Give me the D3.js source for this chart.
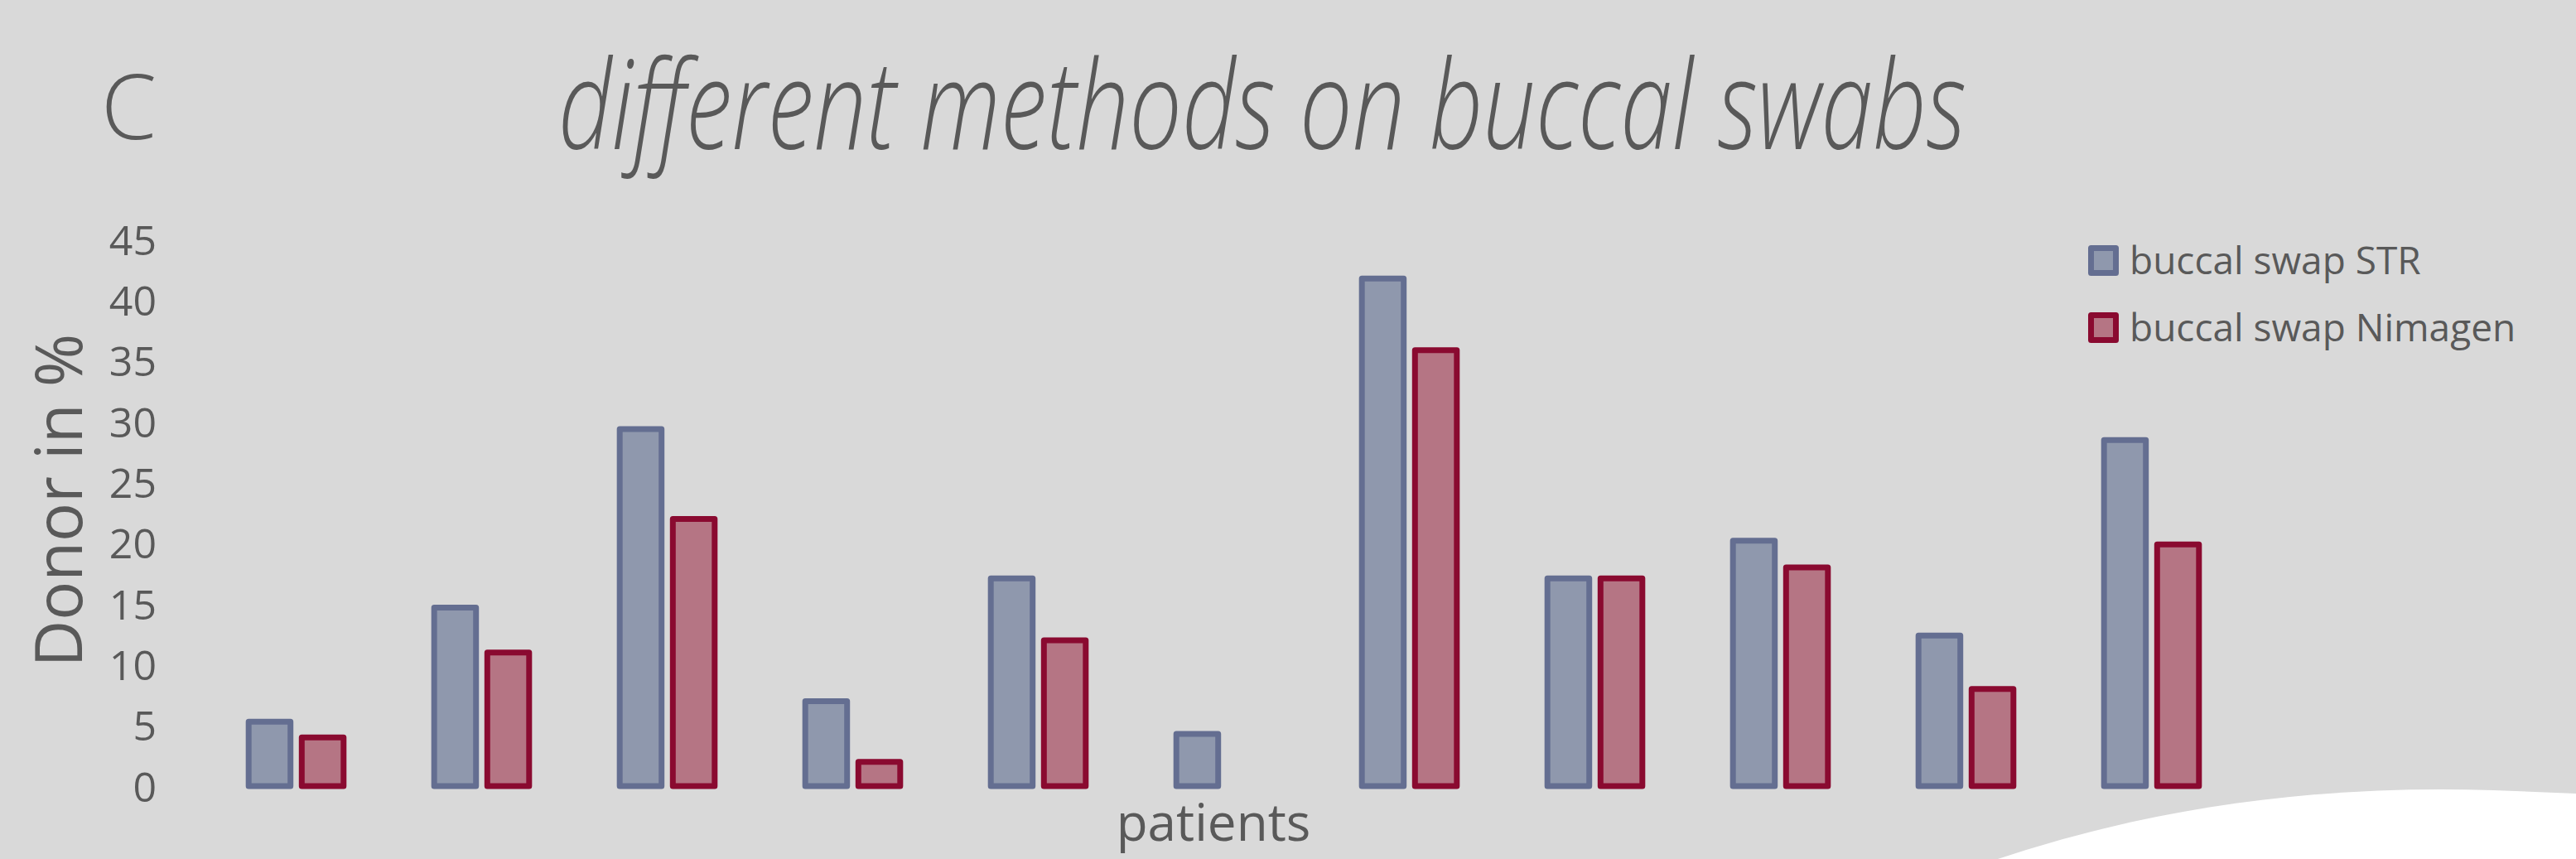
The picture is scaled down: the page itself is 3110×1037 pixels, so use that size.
<!DOCTYPE html>
<html>
<head>
<meta charset="utf-8">
<script src="https://cdn.jsdelivr.net/npm/d3@7"></script>
<style>
  html, body { margin: 0; padding: 0; background: #d9d9d9; }
  svg { display: block; }
</style>
</head>
<body>
<svg id="chart" width="3110" height="1037"></svg>
<script>
// ---- data ----
const patients = ["1","2","3","4","5","6","7","8","9","10","11"];
const seriesNames = ["buccal swap STR", "buccal swap Nimagen"];
const strValues = [5.3, 14.7, 29.4, 7.0, 17.1, 4.3, 41.8, 17.1, 20.2, 12.4, 28.5];
const nimagenValues = [4.0, 11.0, 22.0, 2.0, 12.0, 0, 35.9, 17.1, 18.0, 8.0, 19.9];
const yTicks = [0, 5, 10, 15, 20, 25, 30, 35, 40, 45];
const titleText = "different methods on buccal swabs";
const panelLabel = "C";
const yAxisTitle = "Donor in %";
const xAxisTitle = "patients";

const fills = ["#8f98ad", "#b57584"];
const strokes = ["#646e91", "#8a0a30"];
const textColor = "#595959";
const baseFont = '"Open Sans", "Noto Sans", sans-serif';

const svg = d3.select("#chart");
const W = 3110, H = 1037;

svg.append("rect").attr("width", W).attr("height", H).attr("fill", "#d9d9d9");

// white decorative curve bottom-right
svg.append("path")
  .attr("d", "M2412,1037 C2620,968 2820,948 3010,954 L3110,958 L3110,1037 Z")
  .attr("fill", "#ffffff");

// scales
const x0 = d3.scaleBand().domain(patients).range([245.5, 2709.5]).paddingInner(0).paddingOuter(0);
const x1 = d3.scaleBand().domain(seriesNames).range([0, x0.bandwidth()]).paddingInner(0.212).paddingOuter(0.853);
const y = d3.scaleLinear().domain([0, 45]).range([949, 949 - 45 * 14.66]);

const rows = patients.map((p, i) => ({ p, vals: [strValues[i], nimagenValues[i]] }));

const g = svg.append("g");
const groups = g.selectAll("g.grp").data(rows).join("g")
  .attr("class", "grp")
  .attr("transform", d => `translate(${x0(d.p)},0)`);

groups.selectAll("rect").data(d => d.vals.map((v, k) => ({ v, k })).filter(e => e.v > 0))
  .join("rect")
  .attr("x", e => x1(seriesNames[e.k]))
  .attr("width", x1.bandwidth())
  .attr("y", e => y(e.v))
  .attr("height", e => y(0) - y(e.v))
  .attr("fill", e => fills[e.k])
  .attr("stroke", e => strokes[e.k])
  .attr("stroke-width", 7)
  .attr("stroke-linejoin", "round");

// y axis (labels only)
const yAxis = d3.axisLeft(y).tickValues(yTicks).tickSize(0).tickPadding(0);
const ya = svg.append("g").attr("transform", "translate(189,0)").call(yAxis);
ya.select(".domain").remove();
ya.selectAll("text")
  .style("font-size", "50px")
  .style("fill", textColor)
  .style("font-family", baseFont)
  .attr("dy", "0.36em");

function txt(sel) {
  return sel.style("fill", textColor).style("font-family", baseFont);
}

// axis titles
txt(svg.append("text"))
  .attr("transform", "translate(99,604) rotate(-90)")
  .attr("text-anchor", "middle")
  .style("font-size", "78px")
  .text(yAxisTitle);

txt(svg.append("text"))
  .attr("x", 1465).attr("y", 1015)
  .attr("text-anchor", "middle")
  .style("font-size", "62px")
  .text(xAxisTitle);

// panel label
txt(svg.append("text"))
  .attr("x", 122).attr("y", 168)
  .style("font-size", "108px")
  .style("font-weight", "300")
  .text(panelLabel);

// title
txt(svg.append("text"))
  .attr("x", 674).attr("y", 180)
  .style("font-size", "150px")
  .style("font-style", "italic")
  .style("font-weight", "300")
  .attr("textLength", 1700)
  .attr("lengthAdjust", "spacingAndGlyphs")
  .text(titleText);

// legend
const lg = svg.append("g").attr("transform", "translate(2521,296)");
const items = lg.selectAll("g").data(seriesNames).join("g")
  .attr("transform", (d, i) => `translate(0,${i * 81})`);
items.append("rect")
  .attr("x", 3.5).attr("y", 3.5).attr("width", 30).attr("height", 30)
  .attr("fill", (d, i) => fills[i])
  .attr("stroke", (d, i) => strokes[i])
  .attr("stroke-width", 7)
  .attr("stroke-linejoin", "round");
txt(items.append("text"))
  .attr("x", 50).attr("y", 18.5)
  .attr("dy", "0.36em")
  .style("font-size", "46px")
  .text(d => d);
</script>
</body>
</html>
